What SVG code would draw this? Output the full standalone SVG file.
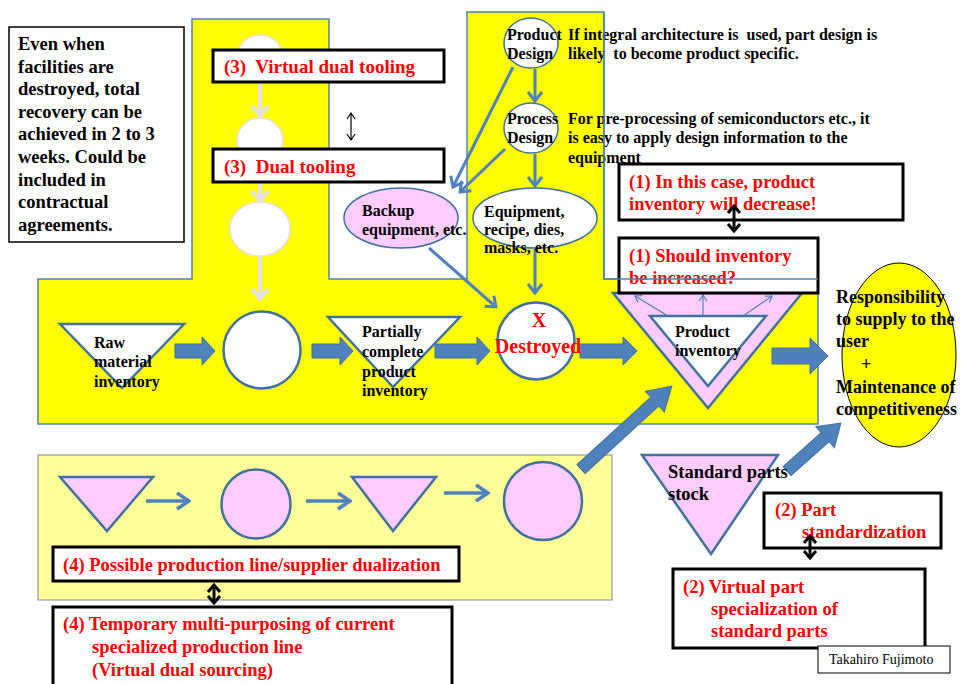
<svg xmlns="http://www.w3.org/2000/svg" width="961" height="684" viewBox="0 0 961 684">
<style>
.t{font-family:"Liberation Serif","Times New Roman",serif;font-weight:bold;fill:#000}
.r{font-family:"Liberation Serif","Times New Roman",serif;font-weight:bold;fill:#FF0000}
.box{fill:#fff;stroke:#000;stroke-width:3}
.shape{stroke:#41719C;stroke-width:2.5}
.blk{fill:#4F81BD;stroke:#41719C;stroke-width:1}
.la{fill:none;stroke:#E6E0EC;stroke-width:4}
.ba{fill:none;stroke:#4F81BD;stroke-width:3}
.tb{fill:none;stroke:#4F81BD;stroke-width:1.2}
.dbl{fill:none;stroke:#000;stroke-width:3}
</style>
<defs>
<marker id="mla" viewBox="-14 -10 16 20" markerWidth="16" markerHeight="20" refX="0" refY="0" orient="auto" markerUnits="userSpaceOnUse"><path d="M-10,-8 L0,0 L-10,8" fill="none" stroke="#E6E0EC" stroke-width="4"/></marker>
<marker id="mba" viewBox="-14 -10 16 20" markerWidth="16" markerHeight="20" refX="0" refY="0" orient="auto" markerUnits="userSpaceOnUse"><path d="M-9,-7 L0,0 L-9,7" fill="none" stroke="#4F81BD" stroke-width="3"/></marker>
<marker id="mbl" viewBox="-16 -10 18 20" markerWidth="18" markerHeight="20" refX="0" refY="0" orient="auto" markerUnits="userSpaceOnUse"><path d="M-12,-8 L0,0 L-12,8" fill="none" stroke="#4F81BD" stroke-width="3.5"/></marker>
<marker id="mtb" viewBox="-8 -6 10 12" markerWidth="10" markerHeight="12" refX="0" refY="0" orient="auto" markerUnits="userSpaceOnUse"><path d="M-6,-4 L0,0 L-6,4" fill="none" stroke="#4F81BD" stroke-width="1.2"/></marker>
<marker id="mk" viewBox="-10 -8 12 16" markerWidth="12" markerHeight="16" refX="0" refY="0" orient="auto-start-reverse" markerUnits="userSpaceOnUse"><path d="M-7,-6 L0,0 L-7,6" fill="none" stroke="#000" stroke-width="3"/></marker>
<marker id="mkt" viewBox="-8 -6 10 12" markerWidth="10" markerHeight="12" refX="0" refY="0" orient="auto-start-reverse" markerUnits="userSpaceOnUse"><path d="M-6,-4 L0,0 L-6,4" fill="none" stroke="#000" stroke-width="1.2"/></marker>
</defs>

<!-- backgrounds -->
<g id="yellow-area">
<path d="M38,279 L192,279 L192,19 L329,19 L329,279 L467,279 L467,12 L604,12 L604,279 L818,279 L818,424 L38,424 Z" fill="#FFFF00" stroke="#4F81BD" stroke-width="1.5"/>
</g>
<g id="pale-area">
<rect x="38" y="455" width="574" height="145" fill="#FFFF99" stroke="#999999" stroke-width="1.2"/>
</g>

<!-- lavender hidden circles -->
<g id="ghost-circles">
<circle cx="260" cy="58" r="23" fill="#fff" stroke="#E6E0EC" stroke-width="1.5"/>
<circle cx="260" cy="141" r="23" fill="#fff" stroke="#E6E0EC" stroke-width="1.5"/>
<ellipse cx="260" cy="229" rx="30" ry="27" fill="#fff" stroke="#E6E0EC" stroke-width="1.5"/>
</g>

<g id="connectors">
<line class="la" x1="260" y1="82" x2="260" y2="116" marker-end="url(#mla)"/>
<line class="la" x1="260" y1="182" x2="260" y2="201" marker-end="url(#mla)"/>
<line class="la" x1="260" y1="256" x2="260" y2="299" marker-end="url(#mla)"/>
<line class="ba" x1="535" y1="69" x2="535" y2="101" marker-end="url(#mba)"/>
<line class="ba" x1="535" y1="154" x2="535" y2="186" marker-end="url(#mba)"/>
<line class="ba" x1="535" y1="249" x2="535" y2="293" marker-end="url(#mba)"/>
<line class="ba" x1="513" y1="67" x2="453" y2="187" marker-end="url(#mba)"/>
<line class="ba" x1="505" y1="149" x2="460" y2="192" marker-end="url(#mba)"/>
<line class="ba" x1="429" y1="248" x2="496" y2="307" marker-end="url(#mba)"/>
<line class="ba" style="stroke-width:3.5" x1="146" y1="501" x2="189" y2="501" marker-end="url(#mbl)"/>
<line class="ba" style="stroke-width:3.5" x1="306" y1="501" x2="350" y2="501" marker-end="url(#mbl)"/>
<line class="ba" style="stroke-width:3.5" x1="444" y1="493" x2="488" y2="493" marker-end="url(#mbl)"/>
<path class="blk" d="M175,344 H202 V337 L215,351 L202,365 V358 H175 Z"/>
<path class="blk" d="M312,344 H340 V337 L353,351 L340,365 V358 H312 Z"/>
<path class="blk" d="M435,344 H477 V337 L490,351 L477,365 V358 H435 Z"/>
<path class="blk" d="M580,344 H623 V337 L637,351 L623,365 V358 H580 Z"/>
<path class="blk" d="M772,348 H810 V338 L828,356 L810,374 V364 H772 Z"/>
<line x1="351" y1="113" x2="351" y2="140" stroke="#000" stroke-width="1.2" marker-start="url(#mkt)" marker-end="url(#mkt)"/>
</g>

<g id="left-note">
<rect x="9" y="27" width="175" height="215" fill="#fff" stroke="#000" stroke-width="1.5"/>
<text class="t" font-size="18.5"><tspan x="18" y="50">Even when</tspan><tspan x="18" y="72.6">facilities are</tspan><tspan x="18" y="95.2">destroyed, total</tspan><tspan x="18" y="117.8">recovery can be</tspan><tspan x="18" y="140.4">achieved in 2 to 3</tspan><tspan x="18" y="163">weeks. Could be</tspan><tspan x="18" y="185.6">included in</tspan><tspan x="18" y="208.2">contractual</tspan><tspan x="18" y="230.8">agreements.</tspan></text>
</g>

<g id="virtual-dual-tooling">
<rect class="box" x="213" y="50" width="231" height="32"/>
<text class="r" font-size="19" x="224" y="73" xml:space="preserve">(3)  Virtual dual tooling</text>
</g>
<g id="dual-tooling">
<rect class="box" x="213" y="149" width="231" height="33"/>
<text class="r" font-size="19" x="224" y="173" xml:space="preserve">(3)  Dual tooling</text>
</g>

<g id="backup">
<ellipse cx="401" cy="218" rx="57" ry="30" fill="#FFCCFF" stroke="#41719C" stroke-width="1.5"/>
<text class="t" font-size="16"><tspan x="362" y="216">Backup</tspan><tspan x="362" y="235">equipment, etc.</tspan></text>
</g>

<g id="product-design">
<ellipse cx="531" cy="43" rx="27" ry="25" fill="#fff" stroke="#41719C" stroke-width="1.5"/>
<text class="t" font-size="16"><tspan x="507" y="40">Product</tspan><tspan x="507" y="59">Design</tspan></text>
</g>
<g id="process-design">
<ellipse cx="531" cy="128" rx="27" ry="25" fill="#fff" stroke="#41719C" stroke-width="1.5"/>
<text class="t" font-size="16"><tspan x="507" y="124">Process</tspan><tspan x="507" y="143">Design</tspan></text>
</g>
<g id="equipment">
<ellipse cx="535" cy="218" rx="62" ry="30" fill="#fff" stroke="#41719C" stroke-width="1.5"/>
<text class="t" font-size="16"><tspan x="484" y="217">Equipment,</tspan><tspan x="484" y="235">recipe, dies,</tspan><tspan x="484" y="253">masks, etc.</tspan></text>
</g>
<g id="design-notes">
<text class="t" font-size="16" xml:space="preserve"><tspan x="568" y="40">If integral architecture is  used, part design is</tspan><tspan x="568" y="59">likely  to become product specific.</tspan></text>
<text class="t" font-size="16"><tspan x="568" y="124">For pre-processing of semiconductors etc., it</tspan><tspan x="568" y="143">is easy to apply design information to the</tspan><tspan x="568" y="163">equipment</tspan></text>
</g>

<g id="raw-material">
<path class="shape" d="M60,324 L184,324 L122,388 Z" fill="#fff"/>
<text class="t" font-size="16"><tspan x="94" y="348">Raw</tspan><tspan x="94" y="367">material</tspan><tspan x="94" y="387">inventory</tspan></text>
</g>
<g id="process-circle">
<circle class="shape" cx="262" cy="350" r="38.5" fill="#fff"/>
</g>
<g id="partial">
<path class="shape" d="M328,317 L460,317 L393,387 Z" fill="#fff"/>
<text class="t" font-size="16"><tspan x="362" y="337">Partially</tspan><tspan x="362" y="357">complete</tspan><tspan x="362" y="377">product</tspan><tspan x="362" y="396">inventory</tspan></text>
</g>
<g id="destroyed">
<circle class="shape" cx="536" cy="341" r="38.5" fill="#fff"/>
<text class="r" font-size="20" text-anchor="middle"><tspan x="539" y="327">X</tspan><tspan x="538" y="353">Destroyed</tspan></text>
</g>

<g id="product-inventory">
<path class="shape" d="M613,293 L802,293 L708,408 Z" fill="#FFCCFF"/>
<path class="shape" d="M650,316 L766,316 L708,386 Z" fill="#fff"/>
<line class="tb" x1="668" y1="316" x2="635" y2="296" marker-end="url(#mtb)"/>
<line class="tb" x1="703" y1="316" x2="703" y2="295" marker-end="url(#mtb)"/>
<line class="tb" x1="743" y1="316" x2="772" y2="296" marker-end="url(#mtb)"/>
<text class="t" font-size="16"><tspan x="675" y="337">Product</tspan><tspan x="675" y="356">inventory</tspan></text>
</g>

<g id="inv-decrease">
<rect class="box" x="619" y="164" width="284" height="56"/>
<text class="r" font-size="18.5"><tspan x="629" y="188">(1) In this case, product</tspan><tspan x="629" y="210">inventory will decrease!</tspan></text>
</g>
<g id="inv-increase">
<rect class="box" x="619" y="238" width="199" height="55"/>
<text class="r" font-size="18.5"><tspan x="629" y="262">(1) Should inventory</tspan><tspan x="629" y="284">be increased?</tspan></text>
</g>
<line x1="734" y1="206" x2="734" y2="231" class="dbl" marker-start="url(#mk)" marker-end="url(#mk)"/>
<path d="M604,12 V279 H818" fill="none" stroke="#4F81BD" stroke-width="1.5"/>

<g id="responsibility">
<ellipse cx="899" cy="355" rx="57" ry="92" fill="#FFFF00" stroke="#000" stroke-width="1"/>
<text class="t" font-size="18"><tspan x="836" y="303">Responsibility</tspan><tspan x="836" y="325">to supply to the</tspan><tspan x="836" y="347">user</tspan><tspan x="861" y="370">+</tspan><tspan x="836" y="393">Maintenance of</tspan><tspan x="836" y="415">competitiveness</tspan></text>
</g>

<g id="lower-line">
<path class="shape" d="M60,477 L153,477 L107,531 Z" fill="#FFCCFF"/>
<circle class="shape" cx="256" cy="504" r="34.5" fill="#FFCCFF"/>
<path class="shape" d="M352,477 L436,477 L393,531 Z" fill="#FFCCFF"/>
<circle class="shape" cx="543" cy="501" r="39" fill="#FFCCFF"/>
</g>
<path class="blk" transform="translate(581,469) rotate(-42.4)" d="M0,-6 H100 V-14 L123,0 L100,14 V6 H0 Z"/>

<g id="dualization">
<rect class="box" x="53" y="547" width="406" height="34"/>
<text class="r" font-size="18.5" x="63" y="571">(4) Possible production line/supplier dualization</text>
</g>
<line x1="214" y1="585" x2="214" y2="603" class="dbl" marker-start="url(#mk)" marker-end="url(#mk)"/>
<g id="multi-purposing">
<rect class="box" x="53" y="607" width="399" height="90"/>
<text class="r" font-size="18.5"><tspan x="63" y="630">(4) Temporary multi-purposing of current</tspan><tspan x="92" y="653">specialized production line</tspan><tspan x="92" y="676">(Virtual dual sourcing)</tspan></text>
</g>

<g id="standard-parts">
<path class="shape" d="M642,455 L778,455 L711,554 Z" fill="#FFCCFF"/>
</g>
<path class="blk" transform="translate(787,471) rotate(-41.6)" d="M0,-6 H51 V-14 L72,0 L51,14 V6 H0 Z"/>
<text class="t" font-size="18.5"><tspan x="668" y="478">Standard parts</tspan><tspan x="668" y="500">stock</tspan></text>

<g id="part-standardization">
<rect class="box" x="764" y="493" width="177" height="55"/>
<text class="r" font-size="18.5"><tspan x="775" y="516">(2) Part</tspan><tspan x="802" y="538">standardization</tspan></text>
</g>
<line x1="810" y1="536" x2="810" y2="558" class="dbl" marker-start="url(#mk)" marker-end="url(#mk)"/>
<g id="virtual-part">
<rect class="box" x="673" y="569" width="252" height="79"/>
<text class="r" font-size="18.5"><tspan x="683" y="593">(2) Virtual part</tspan><tspan x="711" y="615">specialization of</tspan><tspan x="711" y="637">standard parts</tspan></text>
</g>
<g id="credit">
<rect x="818" y="646" width="132" height="27" fill="#fff" stroke="#000" stroke-width="1"/>
<text x="829" y="664" font-family="Liberation Serif, serif" font-size="14" fill="#000">Takahiro Fujimoto</text>
</g>
</svg>
